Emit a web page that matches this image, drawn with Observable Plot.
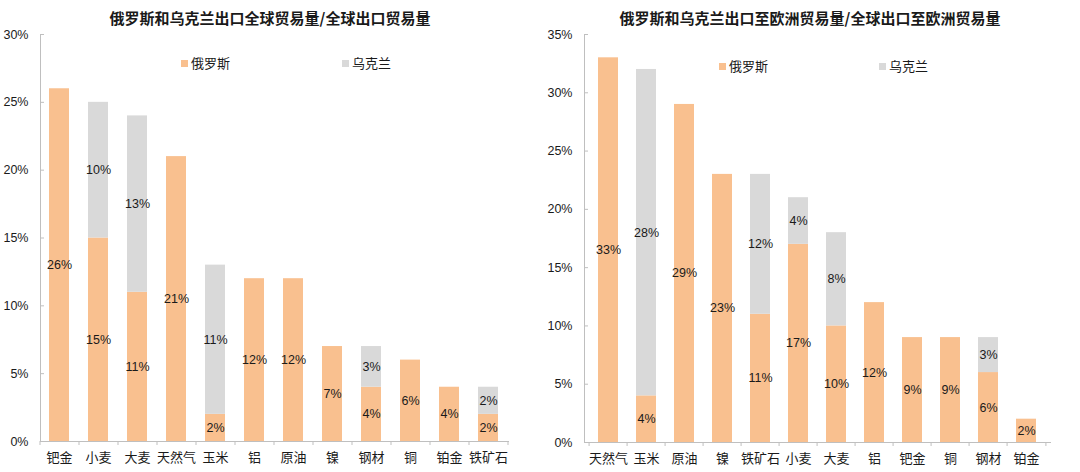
<!DOCTYPE html>
<html>
<head>
<meta charset="utf-8">
<script src="https://cdn.jsdelivr.net/npm/d3@7"></script>
<script src="https://cdn.jsdelivr.net/npm/@observablehq/plot@0.6"></script>
<style>
  html, body { margin: 0; padding: 0; background: #fff; }
  #wrap { position: relative; width: 1080px; height: 472px; font-family: "Liberation Sans", "Noto Sans CJK SC", sans-serif; }
  .panel { position: absolute; top: 0; width: 540px; height: 472px; }
  .title { position: absolute; top: 7px; left: 0; width: 540px; text-align: center; font-size: 15px; font-weight: bold; color: #1a1a1a; font-family: "Noto Sans CJK SC", sans-serif; white-space: nowrap; }
  .leg { position: absolute; font-size: 13px; color: #1a1a1a; font-family: "Noto Sans CJK SC", sans-serif; line-height: 16px; }
  .leg i { display: inline-block; width: 7px; height: 7px; margin-right: 3px; vertical-align: 1px; }
</style>
</head>
<body>
<div id="wrap"></div>
<script>
// ---- Data ----
const seriesNames = ["俄罗斯", "乌克兰"];
const seriesColors = ["#F9C08F", "#D9D9D9"];

const leftTitle = "俄罗斯和乌克兰出口全球贸易量/全球出口贸易量";
const leftCats = ["钯金", "小麦", "大麦", "天然气", "玉米", "铝", "原油", "镍", "钢材", "铜", "铂金", "铁矿石"];
const leftRussia = [26, 15, 11, 21, 2, 12, 12, 7, 4, 6, 4, 2];
const leftUkraine = [0, 10, 13, 0, 11, 0, 0, 0, 3, 0, 0, 2];
const leftTicks = [0, 5, 10, 15, 20, 25, 30];

const rightTitle = "俄罗斯和乌克兰出口至欧洲贸易量/全球出口至欧洲贸易量";
const rightCats = ["天然气", "玉米", "原油", "镍", "铁矿石", "小麦", "大麦", "铝", "钯金", "铜", "钢材", "铂金"];
const rightRussia = [33, 4, 29, 23, 11, 17, 10, 12, 9, 9, 6, 2];
const rightUkraine = [0, 28, 0, 0, 12, 4, 8, 0, 0, 0, 3, 0];
const rightTicks = [0, 5, 10, 15, 20, 25, 30, 35];

const axisColor = "#BFBFBF";

function makePanel(cats, ru, ua, ticks, m) {
  const rows = [];
  cats.forEach((c, i) => {
    rows.push({cat: c, series: seriesNames[0], value: ru[i]});
    rows.push({cat: c, series: seriesNames[1], value: ua[i]});
  });
  const step = (540 - m.left - m.right) / cats.length;
  return Plot.plot({
    width: 540, height: 472,
    marginTop: m.top, marginBottom: m.bottom, marginLeft: m.left, marginRight: m.right,
    style: {fontFamily: '"Liberation Sans", "Noto Sans CJK SC", sans-serif', fontSize: "12.5px", color: "#1a1a1a", background: "transparent", overflow: "visible"},
    x: {domain: cats, paddingInner: 0.48, paddingOuter: 0.24},
    y: {domain: [0, ticks[ticks.length - 1]]},
    color: {domain: seriesNames, range: seriesColors},
    marks: [
      Plot.barY(rows, {x: "cat", y: "value", fill: "series", order: seriesNames}),
      Plot.text(rows.filter(d => d.value > 0), Plot.stackY({x: "cat", y: "value", z: "series", order: seriesNames, text: d => d.value + "%", fontSize: 12.5, fill: "#1a1a1a"})),
      Plot.frame({anchor: "left", stroke: axisColor}),
      Plot.frame({anchor: "bottom", stroke: axisColor}),
      Plot.axisY({ticks: ticks, tickSize: 4, dx: 4, text: null, label: null, stroke: axisColor}),
      Plot.axisY({ticks: ticks, tickSize: 0, tickPadding: m.ypad, label: null, tickFormat: d => d + "%", fontSize: 12.5, fill: "#1a1a1a"}),
      Plot.axisX({tickSize: 4, dx: -step / 2, text: null, label: null, stroke: axisColor}),
      Plot.axisX({ticks: [cats[cats.length - 1]], tickSize: 4, dx: step / 2, text: null, label: null, stroke: axisColor}),
      Plot.axisX({tickSize: 0, tickPadding: 11, label: null, fontSize: 13, fill: "#1a1a1a", fontFamily: '"Noto Sans CJK SC", sans-serif'})
    ]
  });
}

function addPanel(left, title, cats, ru, ua, ticks, m, legPos) {
  const p = document.createElement("div");
  p.className = "panel";
  p.style.left = left + "px";
  p.appendChild(makePanel(cats, ru, ua, ticks, m));
  const t = document.createElement("div");
  t.className = "title";
  t.textContent = title;
  p.appendChild(t);
  seriesNames.forEach((s, i) => {
    const l = document.createElement("div");
    l.className = "leg";
    l.style.left = legPos.x[i] + "px";
    l.style.top = legPos.y + "px";
    l.innerHTML = `<i style="background:${seriesColors[i]}"></i>${s}`;
    p.appendChild(l);
  });
  document.getElementById("wrap").appendChild(p);
}

addPanel(0, leftTitle, leftCats, leftRussia, leftUkraine, leftTicks,
  {top: 34, bottom: 31, left: 40, right: 32, ypad: 12}, {x: [181, 342], y: 55});
addPanel(540, rightTitle, rightCats, rightRussia, rightUkraine, rightTicks,
  {top: 34, bottom: 30, left: 44, right: 30, ypad: 12}, {x: [179, 339], y: 58});
</script>
</body>
</html>
